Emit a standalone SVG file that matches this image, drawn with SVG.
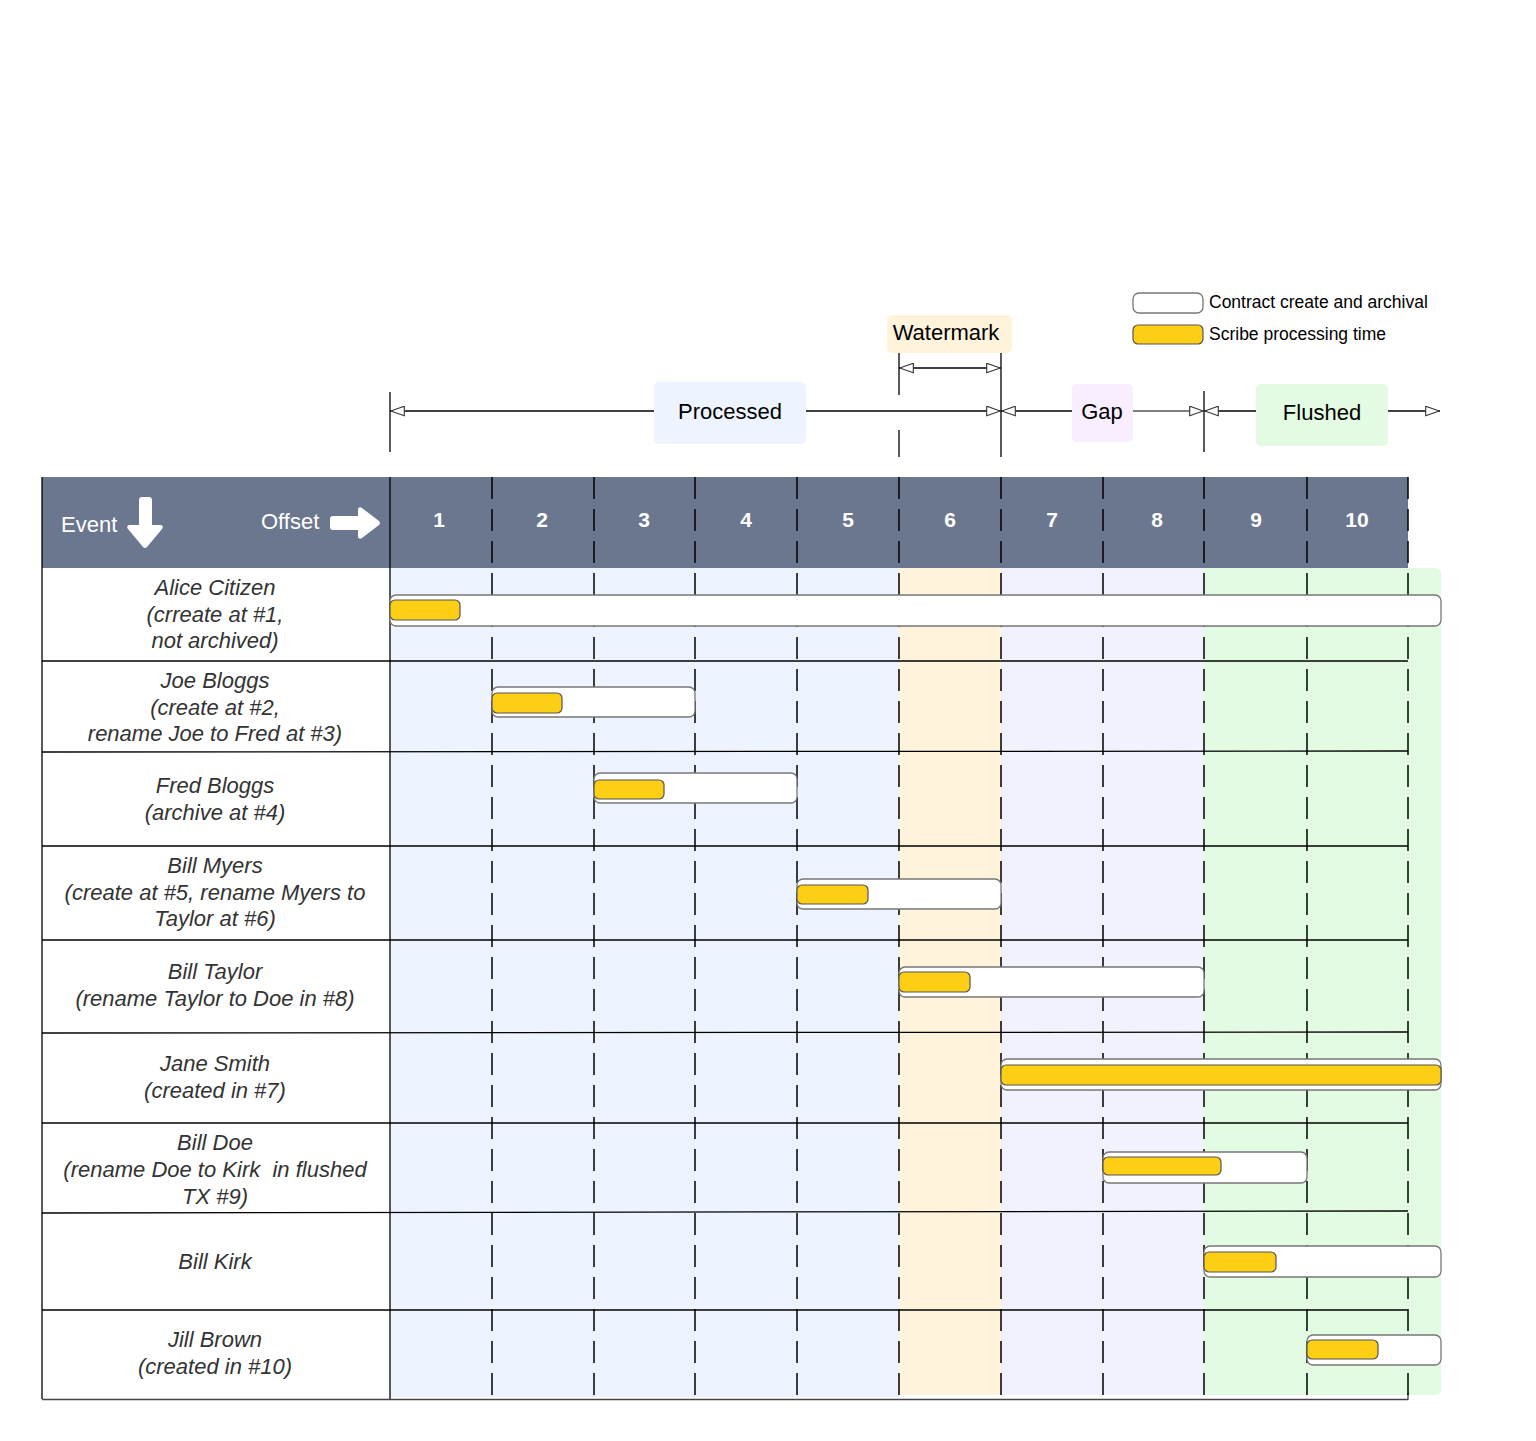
<svg xmlns="http://www.w3.org/2000/svg" width="1536" height="1441" viewBox="0 0 1536 1441">
<style>
.lbl{font-family:"Liberation Sans",Arial,sans-serif;font-size:22px;font-style:italic;fill:#333;text-anchor:middle}
.hd{font-family:"Liberation Sans",Arial,sans-serif;font-size:22px;fill:#fff}
.num{font-family:"Liberation Sans",Arial,sans-serif;font-size:21px;font-weight:bold;fill:#fff;text-anchor:middle}
.tag{font-family:"Liberation Sans",Arial,sans-serif;font-size:22px;fill:#000;text-anchor:middle}
.leg{font-family:"Liberation Sans",Arial,sans-serif;font-size:17.5px;fill:#000}
.wb{fill:#fff;stroke:#777;stroke-width:1.3}
.yb{fill:#FCCE14;stroke:#555;stroke-width:1.2}
.dash{stroke:#000;stroke-width:1.5;stroke-dasharray:22 10;fill:none}
.sep{stroke:#000;stroke-width:1.3;fill:none}
.arr{stroke:#000;stroke-width:1.3;fill:none;marker-end:url(#tri);marker-start:url(#tri)}
.tick{stroke:#000;stroke-width:1.3}
</style>
<defs>
<marker id="tri" viewBox="0 0 15 11" refX="15" refY="5.5" markerWidth="15" markerHeight="11" markerUnits="userSpaceOnUse" orient="auto-start-reverse">
<path d="M0.7,0.7 L14.3,5.5 L0.7,10.3 z" fill="#fff" stroke="#333" stroke-width="1.1"/>
</marker>
</defs>
<rect width="1536" height="1441" fill="#fff"/>

<g id="bands">
<rect x="390" y="568" width="509" height="829" fill="#EDF4FF"/>
<rect x="899" y="568" width="102" height="827" fill="#FFF3DC"/>
<rect x="1001" y="568" width="203" height="827" fill="#F2F2FF"/>
<path d="M1204,568 H1435 Q1441,568 1441,574 V1389 Q1441,1395 1435,1395 H1204 Z" fill="#E2FBE2"/>
</g>

<g id="header">
<rect x="42" y="477" width="1366" height="91" fill="#6A778F"/>
<text class="hd" x="61" y="532">Event</text>
<path d="M139,500 Q139,497 142,497 H149 Q152,497 152,500 V525 H161 Q164,526 162,529 L147,547 Q145,549 143,547 L128,529 Q126,526 129,525 H139 Z" fill="#fff"/>
<text class="hd" x="261" y="529">Offset</text>
<path d="M333,516 H358 V509 Q359,506 362,508 L379,521 Q381,523 379,525 L362,538 Q359,540 358,537 V530 H333 Q330,530 330,527 V519 Q330,516 333,516 Z" fill="#fff"/>
<text class="num" x="439" y="527">1</text>
<text class="num" x="542" y="527">2</text>
<text class="num" x="644" y="527">3</text>
<text class="num" x="746" y="527">4</text>
<text class="num" x="848" y="527">5</text>
<text class="num" x="950" y="527">6</text>
<text class="num" x="1052" y="527">7</text>
<text class="num" x="1157" y="527">8</text>
<text class="num" x="1256" y="527">9</text>
<text class="num" x="1357" y="527">10</text>
</g>

<g id="grid">
<line class="sep" x1="42" y1="477" x2="42" y2="1399"/>
<line class="sep" x1="390" y1="477" x2="390" y2="1399"/>
<line class="sep" x1="42" y1="661" x2="1408" y2="661"/>
<line class="sep" x1="42" y1="752" x2="1408" y2="751"/>
<line class="sep" x1="42" y1="846" x2="1408" y2="846"/>
<line class="sep" x1="42" y1="940" x2="1408" y2="940"/>
<line class="sep" x1="42" y1="1033" x2="1408" y2="1032"/>
<line class="sep" x1="42" y1="1123" x2="1408" y2="1123"/>
<line class="sep" x1="42" y1="1213" x2="1408" y2="1211"/>
<line class="sep" x1="42" y1="1310" x2="1408" y2="1310"/>
<line x1="42" y1="1399.5" x2="1408" y2="1399.5" stroke="#444" stroke-width="1.3"/>
<line x1="1408" y1="1393" x2="1408" y2="1400" stroke="#444" stroke-width="1.3"/>
<line class="dash" x1="492" y1="477" x2="492" y2="1399"/>
<line class="dash" x1="594" y1="477" x2="594" y2="1399"/>
<line class="dash" x1="695" y1="477" x2="695" y2="1399"/>
<line class="dash" x1="797" y1="477" x2="797" y2="1399"/>
<line class="dash" x1="899" y1="477" x2="899" y2="1399"/>
<line class="dash" x1="1001" y1="477" x2="1001" y2="1399"/>
<line class="dash" x1="1103" y1="477" x2="1103" y2="1399"/>
<line class="dash" x1="1204" y1="477" x2="1204" y2="1399"/>
<line class="dash" x1="1307" y1="477" x2="1307" y2="1399"/>
<line class="dash" x1="1408" y1="477" x2="1408" y2="1399"/>
</g>

<g id="row-alice">
<text class="lbl" x="215" y="595">Alice Citizen</text>
<text class="lbl" x="215" y="622">(crreate at #1,</text>
<text class="lbl" x="215" y="648">not archived)</text>
<rect class="wb" x="390" y="595" width="1051" height="31" rx="6"/>
<rect class="yb" x="390" y="600" width="70" height="20" rx="5"/>
</g>
<g id="row-joe">
<text class="lbl" x="215" y="688">Joe Bloggs</text>
<text class="lbl" x="215" y="715">(create at #2,</text>
<text class="lbl" x="215" y="741">rename Joe to Fred at #3)</text>
<rect class="wb" x="492" y="687" width="203" height="30" rx="6"/>
<rect class="yb" x="492" y="693" width="70" height="20" rx="5"/>
</g>
<g id="row-fred">
<text class="lbl" x="215" y="793">Fred Bloggs</text>
<text class="lbl" x="215" y="820">(archive at #4)</text>
<rect class="wb" x="594" y="773" width="203" height="30" rx="6"/>
<rect class="yb" x="594" y="780" width="70" height="19" rx="5"/>
</g>
<g id="row-myers">
<text class="lbl" x="215" y="873">Bill Myers</text>
<text class="lbl" x="215" y="900">(create at #5, rename Myers to</text>
<text class="lbl" x="215" y="926">Taylor at #6)</text>
<rect class="wb" x="797" y="879" width="204" height="30" rx="6"/>
<rect class="yb" x="797" y="885" width="71" height="19" rx="5"/>
</g>
<g id="row-taylor">
<text class="lbl" x="215" y="979">Bill Taylor</text>
<text class="lbl" x="215" y="1006">(rename Taylor to Doe in #8)</text>
<rect class="wb" x="899" y="967" width="305" height="30" rx="6"/>
<rect class="yb" x="899" y="972" width="71" height="20" rx="5"/>
</g>
<g id="row-jane">
<text class="lbl" x="215" y="1071">Jane Smith</text>
<text class="lbl" x="215" y="1098">(created in #7)</text>
<rect class="wb" x="1001" y="1059" width="440" height="31" rx="6"/>
<rect class="yb" x="1001" y="1065" width="440" height="20" rx="5"/>
</g>
<g id="row-doe">
<text class="lbl" x="215" y="1150">Bill Doe</text>
<text class="lbl" x="215" y="1177" xml:space="preserve">(rename Doe to Kirk  in flushed</text>
<text class="lbl" x="215" y="1204">TX #9)</text>
<rect class="wb" x="1103" y="1152" width="204" height="31" rx="6"/>
<rect class="yb" x="1103" y="1157" width="118" height="18" rx="5"/>
</g>
<g id="row-kirk">
<text class="lbl" x="215" y="1269">Bill Kirk</text>
<rect class="wb" x="1204" y="1246" width="237" height="31" rx="6"/>
<rect class="yb" x="1204" y="1252" width="72" height="20" rx="5"/>
</g>
<g id="row-jill">
<text class="lbl" x="215" y="1347">Jill Brown</text>
<text class="lbl" x="215" y="1374">(created in #10)</text>
<rect class="wb" x="1307" y="1335" width="134" height="30" rx="6"/>
<rect class="yb" x="1307" y="1340" width="71" height="19" rx="5"/>
</g>

<g id="connectors">
<line class="tick" x1="390" y1="392" x2="390" y2="452"/>
<line class="tick" x1="899" y1="353" x2="899" y2="395"/>
<line class="tick" x1="899" y1="430" x2="899" y2="457"/>
<line class="tick" x1="1001" y1="353" x2="1001" y2="457"/>
<line class="tick" x1="1204" y1="391" x2="1204" y2="452"/>
<line x1="390" y1="411" x2="654" y2="411" stroke="#000" stroke-width="1.3" marker-start="url(#tri)"/>
<line x1="806" y1="411" x2="1001" y2="411" stroke="#000" stroke-width="1.3" marker-end="url(#tri)"/>
<line x1="1001" y1="411" x2="1072" y2="411" stroke="#000" stroke-width="1.3" marker-start="url(#tri)"/>
<line x1="1133" y1="411" x2="1204" y2="411" stroke="#555" stroke-width="1.3" marker-end="url(#tri)"/>
<line x1="1204" y1="411" x2="1256" y2="411" stroke="#000" stroke-width="1.3" marker-start="url(#tri)"/>
<line x1="1388" y1="411" x2="1440" y2="411" stroke="#000" stroke-width="1.3" marker-end="url(#tri)"/>
<line class="arr" x1="899" y1="368" x2="1001" y2="368"/>
</g>

<g id="tag-processed">
<rect x="654" y="382" width="152" height="62" rx="5" fill="#EDF4FF"/>
<text class="tag" x="730" y="419">Processed</text>
</g>
<g id="tag-watermark">
<rect x="887" y="315" width="125" height="38" rx="5" fill="#FFF3DC"/>
<text class="tag" x="946" y="340">Watermark</text>
</g>
<g id="tag-gap">
<rect x="1072" y="384" width="61" height="58" rx="5" fill="#F8EEFF"/>
<text class="tag" x="1102" y="419">Gap</text>
</g>
<g id="tag-flushed">
<rect x="1256" y="384" width="132" height="62" rx="5" fill="#E2FBE2"/>
<text class="tag" x="1322" y="420">Flushed</text>
</g>

<g id="legend">
<rect class="wb" x="1133" y="293" width="70" height="20" rx="6"/>
<text class="leg" x="1209" y="308">Contract create and archival</text>
<rect class="yb" x="1133" y="325" width="70" height="19" rx="5"/>
<text class="leg" x="1209" y="340">Scribe processing time</text>
</g>
</svg>
